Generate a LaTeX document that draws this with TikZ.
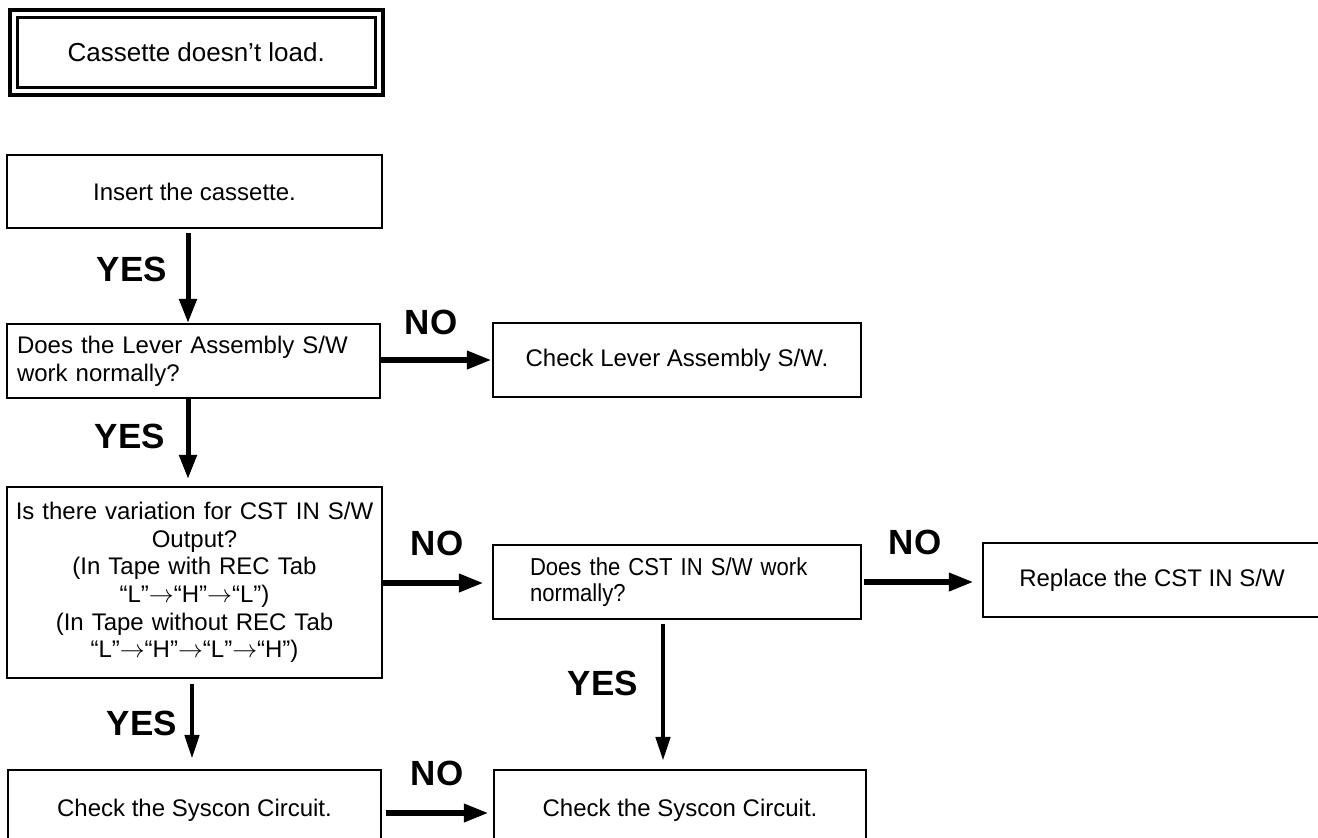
\documentclass[tikz,border=0pt]{standalone}
\usepackage{fontspec}
\setmainfont{Liberation Sans}
\newfontfamily\narrowfont[FakeStretch=0.9]{Liberation Sans}
\usetikzlibrary{arrows.meta,calc}
\newcommand{\ra}{\ensuremath{{\rightarrow}}}
\begin{document}
\begin{tikzpicture}[x=1pt,y=-1pt,
  box/.style={draw, line width=2.2pt, rectangle, inner sep=0pt, font=\fontsize{24}{27.6}\selectfont},
  yesarrow/.style={line width=5pt, -{Triangle[length=24pt,width=17pt]}},
  yesarrowthin/.style={line width=4.5pt, -{Triangle[length=24pt,width=14pt]}},
  noarrow/.style={line width=6.5pt, -{Triangle[length=25pt,width=17pt]}},
  lab/.style={font=\fontsize{35}{35}\selectfont\bfseries, inner sep=0pt}]
\useasboundingbox (0,0) rectangle (1318,838);
\clip (0,0) rectangle (1318,838);
% title
\node[draw, line width=4pt, minimum width=373.5pt, minimum height=85.5pt, inner sep=0pt,
      font=\fontsize{26}{30}\selectfont] (title) at (196.25,52.25) {Cassette doesn’t load.};
\node[draw, line width=3pt, minimum width=357.5pt, minimum height=70pt, inner sep=0pt] (titlein) at (title.center) {};
% boxes
\node[box, minimum width=375pt, minimum height=73pt] (insert) at (194.5,191.5) {Insert the cassette.};
\node[box, minimum width=373pt, minimum height=74pt, text width=353pt, inner xsep=10pt, align=left] (lever) at (193.5,361) {Does the Lever Assembly S/W\\work normally?};
\node[box, minimum width=368pt, minimum height=74pt] (checklever) at (677,360) {Check Lever Assembly S/W.};
\node[box, minimum width=375pt, minimum height=191pt, text width=365pt, align=center] (cstvar) at (194.5,582.5)
  {Is there variation for CST IN S/W\\Output?\\(In Tape with REC Tab\\“L”\ra“H”\ra“L”)\\(In Tape without REC Tab\\“L”\ra“H”\ra“L”\ra“H”)};
\node[box, minimum width=368pt, minimum height=74pt, text width=294pt, inner xsep=37pt, align=left,
      font=\narrowfont\fontsize{24.5}{25.5}\selectfont] (doescst) at (677,582) {Does the CST IN S/W work\\normally?};
\node[box, minimum width=338pt, minimum height=74pt] (replace) at (1152,580) {Replace the CST IN S/W};
\node[box, minimum width=373pt, minimum height=80pt] (sysL) at (194.5,810) {Check the Syscon Circuit.};
\node[box, minimum width=372pt, minimum height=80pt] (sysR) at (680,810) {Check the Syscon Circuit.};
% helper coordinates
\coordinate (xa) at (188,0);
\coordinate (xc) at (663,0);
\coordinate (xd) at (192,0);
\coordinate (y1) at (0,360);
\coordinate (y2) at (0,583);
\coordinate (y3) at (0,582);
\coordinate (y4) at (0,813);
% YES arrows
\draw[yesarrow, shorten <=4pt] (insert.south -| xa) -- (lever.north -| xa);
\draw[yesarrow, shorten >=7pt] (lever.south -| xa) -- (cstvar.north -| xa);
\draw[yesarrowthin, shorten <=4pt, shorten >=8pt] (doescst.south -| xc) -- (sysR.north -| xc);
\draw[yesarrowthin, shorten <=5pt, shorten >=10pt] (cstvar.south -| xd) -- (sysL.north -| xd);
% NO arrows
\draw[noarrow] (lever.east |- y1) -- (checklever.west |- y1);
\draw[noarrow, shorten >=8pt] (cstvar.east |- y2) -- (doescst.west |- y2);
\draw[noarrow, shorten <=2pt, shorten >=8pt] (doescst.east |- y3) -- (replace.west |- y3);
\draw[noarrow, shorten <=4pt, shorten >=4pt] (sysL.east |- y4) -- (sysR.west |- y4);
% labels
\node[lab] (yes1) at (132,269) {YES};
\node[lab] (no1) at (431,322) {NO};
\node[lab] (yes2) at (130,436) {YES};
\node[lab] (no2) at (437,543) {NO};
\node[lab] (no3) at (915,542) {NO};
\node[lab] (yes3) at (603,683) {YES};
\node[lab] (yes4) at (142,723) {YES};
\node[lab] (no4) at (437,773) {NO};
\end{tikzpicture}
\end{document}
